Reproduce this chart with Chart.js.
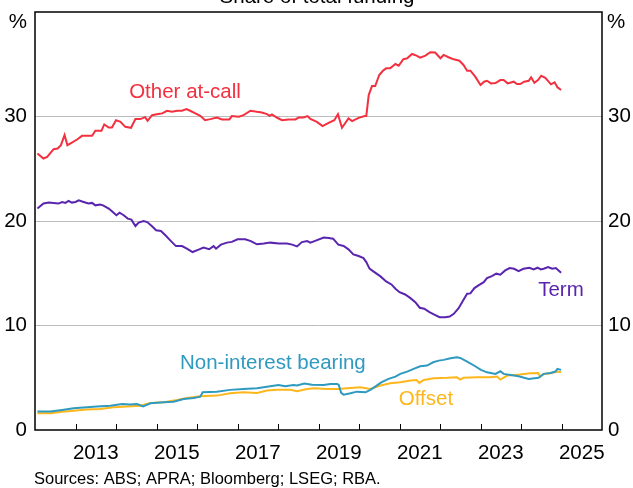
<!DOCTYPE html>
<html>
<head>
<meta charset="utf-8">
<script src="https://cdn.jsdelivr.net/npm/chart.js@4/dist/chart.umd.min.js"></script>
<style>
html,body{margin:0;padding:0;background:#fff;}
canvas{display:block;}
</style>
</head>
<body>
<canvas id="c" width="633" height="488"></canvas>
<script>
// ---- Data (decimal years, per cent of total funding) ----
const title = "Share of total funding";
const source = "Sources: ABS; APRA; Bloomberg; LSEG; RBA.";
const yearLabels = [2013, 2015, 2017, 2019, 2021, 2023, 2025];
const yTicks = [0, 10, 20, 30, 40];

const atCallT = [2012.06,2012.21,2012.30,2012.46,2012.56,2012.64,2012.73,2012.80,2012.91,2013.04,2013.16,2013.28,2013.41,2013.49,2013.64,2013.71,2013.82,2013.90,2014.00,2014.11,2014.23,2014.37,2014.48,2014.60,2014.72,2014.78,2014.89,2015.04,2015.14,2015.26,2015.38,2015.51,2015.63,2015.74,2015.83,2015.96,2016.08,2016.20,2016.33,2016.49,2016.62,2016.80,2016.86,2017.03,2017.15,2017.32,2017.48,2017.60,2017.73,2017.79,2017.85,2017.98,2018.10,2018.26,2018.43,2018.51,2018.63,2018.73,2018.80,2018.96,2019.10,2019.25,2019.39,2019.48,2019.58,2019.74,2019.83,2019.99,2020.14,2020.18,2020.24,2020.32,2020.40,2020.50,2020.59,2020.67,2020.77,2020.90,2020.98,2021.09,2021.19,2021.31,2021.42,2021.51,2021.64,2021.76,2021.88,2022.01,2022.09,2022.21,2022.34,2022.48,2022.58,2022.67,2022.75,2022.87,2023.00,2023.09,2023.16,2023.26,2023.37,2023.49,2023.57,2023.67,2023.82,2023.90,2023.98,2024.08,2024.19,2024.25,2024.33,2024.42,2024.50,2024.60,2024.74,2024.83,2024.90,2024.99];
const atCallV = [26.46,25.98,26.14,26.87,26.94,27.26,28.22,27.26,27.50,27.80,28.15,28.15,28.15,28.63,28.63,29.24,28.95,28.95,29.65,29.49,29.01,28.92,29.75,29.75,29.94,29.59,30.13,30.23,30.30,30.55,30.45,30.55,30.55,30.71,30.55,30.30,30.07,29.65,29.75,29.90,29.72,29.72,30.04,29.97,30.13,30.55,30.45,30.39,30.23,30.07,30.20,29.88,29.65,29.72,29.72,29.90,29.90,30.04,29.76,29.49,29.08,29.40,29.65,30.23,28.92,29.81,29.56,29.87,30.04,30.04,32.05,32.91,32.91,33.97,34.38,34.61,34.61,35.02,34.86,35.47,35.57,35.98,35.82,35.63,35.82,36.15,36.12,35.57,35.89,35.67,35.47,35.34,34.93,34.38,34.38,33.81,33.01,33.33,33.42,33.17,33.20,33.49,33.49,33.17,33.33,33.11,33.11,33.33,33.42,33.75,33.23,33.49,33.90,33.71,33.08,33.27,32.79,32.53];

const termT = [2012.06,2012.21,2012.34,2012.46,2012.58,2012.67,2012.75,2012.83,2012.91,2013.00,2013.08,2013.20,2013.32,2013.41,2013.49,2013.61,2013.68,2013.82,2013.90,2014.01,2014.09,2014.19,2014.29,2014.38,2014.48,2014.56,2014.68,2014.77,2014.89,2014.99,2015.11,2015.22,2015.34,2015.48,2015.63,2015.75,2015.89,2016.04,2016.16,2016.30,2016.41,2016.47,2016.59,2016.74,2016.86,2017.00,2017.19,2017.33,2017.48,2017.65,2017.81,2018.02,2018.22,2018.35,2018.47,2018.59,2018.72,2018.80,2018.90,2019.13,2019.25,2019.36,2019.49,2019.62,2019.74,2019.86,2019.99,2020.11,2020.18,2020.26,2020.38,2020.53,2020.67,2020.80,2020.90,2021.00,2021.14,2021.27,2021.39,2021.50,2021.61,2021.74,2021.86,2021.99,2022.13,2022.24,2022.34,2022.46,2022.57,2022.67,2022.75,2022.85,2022.95,2023.08,2023.16,2023.28,2023.39,2023.49,2023.61,2023.72,2023.83,2023.94,2024.06,2024.21,2024.31,2024.41,2024.49,2024.56,2024.67,2024.77,2024.86,2024.99];
const termV = [21.19,21.67,21.76,21.73,21.67,21.82,21.73,21.92,21.76,21.82,21.98,21.82,21.67,21.73,21.50,21.57,21.50,21.19,20.93,20.55,20.80,20.55,20.23,20.13,19.52,19.85,20.00,19.90,19.49,19.11,19.04,18.63,18.15,17.60,17.60,17.35,17.03,17.26,17.45,17.30,17.60,17.35,17.74,17.93,18.00,18.25,18.25,18.08,17.77,17.84,17.93,17.84,17.84,17.74,17.57,17.98,18.08,17.93,18.08,18.41,18.38,18.31,17.74,17.61,17.29,16.81,16.65,16.45,16.07,15.44,15.11,14.70,14.22,13.93,13.52,13.19,12.97,12.62,12.23,11.70,11.60,11.28,11.05,10.80,10.80,10.86,11.12,11.66,12.40,13.04,13.07,13.58,13.84,14.15,14.54,14.73,14.96,14.86,15.27,15.50,15.43,15.21,15.43,15.53,15.37,15.53,15.37,15.43,15.59,15.43,15.50,15.05];

const nibT = [2012.06,2012.38,2012.67,2012.95,2013.28,2013.53,2013.86,2014.15,2014.35,2014.52,2014.67,2014.85,2015.18,2015.42,2015.67,2015.92,2016.08,2016.14,2016.49,2016.82,2017.15,2017.48,2017.81,2018.01,2018.18,2018.38,2018.47,2018.65,2018.84,2019.13,2019.29,2019.46,2019.50,2019.56,2019.62,2019.79,2019.95,2020.16,2020.28,2020.40,2020.55,2020.73,2020.90,2021.02,2021.19,2021.35,2021.51,2021.68,2021.83,2021.97,2022.09,2022.26,2022.42,2022.50,2022.67,2022.87,2023.01,2023.16,2023.37,2023.49,2023.57,2023.74,2023.94,2024.19,2024.43,2024.56,2024.73,2024.85,2024.90,2024.99];
const nibV = [1.78,1.78,1.92,2.07,2.17,2.26,2.33,2.49,2.43,2.49,2.26,2.55,2.65,2.71,2.97,3.07,3.19,3.61,3.67,3.84,3.93,3.99,4.18,4.31,4.18,4.31,4.25,4.44,4.32,4.31,4.41,4.41,4.31,3.55,3.38,3.51,3.67,3.61,3.84,4.15,4.56,4.89,5.11,5.37,5.59,5.85,6.10,6.17,6.48,6.64,6.71,6.87,6.96,6.90,6.55,6.10,5.75,5.52,5.37,5.62,5.37,5.27,5.14,4.89,4.99,5.37,5.46,5.59,5.85,5.75];

const offsetT = [2012.06,2012.38,2012.67,2012.95,2013.28,2013.61,2013.94,2014.27,2014.60,2014.85,2015.18,2015.51,2015.75,2016.08,2016.49,2016.82,2017.15,2017.48,2017.73,2017.98,2018.31,2018.47,2018.72,2018.90,2019.21,2019.49,2019.70,2020.03,2020.28,2020.53,2020.77,2021.02,2021.27,2021.42,2021.49,2021.60,2021.85,2022.18,2022.42,2022.50,2022.58,2022.91,2023.24,2023.41,2023.49,2023.66,2023.98,2024.23,2024.42,2024.48,2024.56,2024.73,2024.89,2024.99];
const offsetV = [1.60,1.60,1.75,1.85,1.95,2.01,2.17,2.26,2.33,2.59,2.65,2.88,3.07,3.22,3.29,3.51,3.61,3.55,3.77,3.84,3.84,3.70,3.93,3.99,3.93,3.93,3.99,4.08,3.93,4.25,4.47,4.56,4.73,4.79,4.51,4.79,4.95,4.99,5.04,4.82,4.99,5.04,5.04,5.11,4.82,5.21,5.30,5.43,5.46,5.11,5.37,5.43,5.59,5.52];

const seriesNames = ["Other at-call", "Term", "Non-interest bearing", "Offset"];
const seriesColors = ["#F2303F", "#5A25AE", "#2F9AC0", "#FDB71A"];

const pts = (t, v) => t.map((x, i) => ({x: x, y: v[i]}));

const FONT = '"Liberation Sans", Arial, sans-serif';

const decor = {
  id: 'decor',
  afterDraw(chart) {
    const c = chart.ctx, a = chart.chartArea, xs = chart.scales.x;
    c.save();
    c.strokeStyle = '#000'; c.lineWidth = 1;
    for (let yr = 2013; yr <= 2025; yr++) {
      const px = Math.round(xs.getPixelForValue(yr)) + 0.5;
      c.beginPath(); c.moveTo(px, a.bottom); c.lineTo(px, a.bottom - 6); c.stroke();
    }
    c.lineWidth = 1.5;
    c.strokeRect(a.left, a.top, a.right - a.left, a.bottom - a.top);
    c.fillStyle = '#000';
    c.font = '20.5px ' + FONT;
    c.textAlign = 'center'; c.textBaseline = 'alphabetic';
    c.fillText(title, 317, 3);
    c.textBaseline = 'middle';
    c.textAlign = 'right'; c.fillText('%', 27, 22);
    c.textAlign = 'left'; c.fillText('%', 607, 22);
    c.textAlign = 'center';
    c.fillStyle = seriesColors[0]; c.fillText(seriesNames[0], 185, 92);
    c.fillStyle = seriesColors[1]; c.fillText(seriesNames[1], 561, 290);
    c.textAlign = 'left';
    c.fillStyle = seriesColors[2]; c.fillText(seriesNames[2], 180, 363);
    c.textAlign = 'center';
    c.fillStyle = seriesColors[3]; c.fillText(seriesNames[3], 426, 399);
    c.fillStyle = '#000';
    c.textAlign = 'left';
    c.font = '16.5px ' + FONT;
    c.fillText(source, 34, 479);
    c.restore();
  }
};

const yFit = (w) => (s) => { s.width = w; s.paddingTop = 0; s.paddingBottom = 0; };

const yAxisCommon = {
  min: 0, max: 40,
  afterBuildTicks: s => { s.ticks = yTicks.map(v => ({value: v})); },
  ticks: { color: '#000', font: {family: FONT, size: 20.5}, callback: v => (v === 40 ? '' : v) },
  border: { display: false }
};

new Chart(document.getElementById('c'), {
  type: 'line',
  data: {
    datasets: [
      {label: seriesNames[0], data: pts(atCallT, atCallV), borderColor: seriesColors[0]},
      {label: seriesNames[1], data: pts(termT, termV), borderColor: seriesColors[1]},
      {label: seriesNames[2], data: pts(nibT, nibV), borderColor: seriesColors[2]},
      {label: seriesNames[3], data: pts(offsetT, offsetV), borderColor: seriesColors[3]}
    ]
  },
  options: {
    responsive: false,
    animation: false,
    layout: { padding: { top: 12, left: 0, right: 0, bottom: 0 } },
    plugins: { legend: { display: false }, tooltip: { enabled: false }, title: { display: false } },
    elements: { point: { radius: 0 }, line: { borderWidth: 2, tension: 0, fill: false } },
    scales: {
      x: {
        type: 'linear', min: 2012, max: 2026,
        afterBuildTicks: s => { s.ticks = yearLabels.map(y => ({value: y + 0.5})); },
        ticks: { autoSkip: false, maxRotation: 0, padding: 3, color: '#000', font: {family: FONT, size: 20.5}, callback: v => String(Math.floor(v)) },
        grid: { display: false },
        border: { display: false },
        afterFit: s => { s.height = 58; s.paddingLeft = 0; s.paddingRight = 0; }
      },
      y: Object.assign({}, yAxisCommon, {
        position: 'left',
        ticks: Object.assign({}, yAxisCommon.ticks, { padding: 8 }),
        grid: { drawTicks: false, color: ctx => (ctx.tick && (ctx.tick.value === 0 || ctx.tick.value === 40)) ? 'rgba(0,0,0,0)' : '#BDBDBD', lineWidth: 1 },
        afterFit: yFit(35)
      }),
      y2: Object.assign({}, yAxisCommon, {
        position: 'right',
        ticks: Object.assign({}, yAxisCommon.ticks, { padding: 6 }),
        grid: { display: false, drawTicks: false },
        afterFit: yFit(31)
      })
    }
  },
  plugins: [decor]
});
</script>
</body>
</html>
